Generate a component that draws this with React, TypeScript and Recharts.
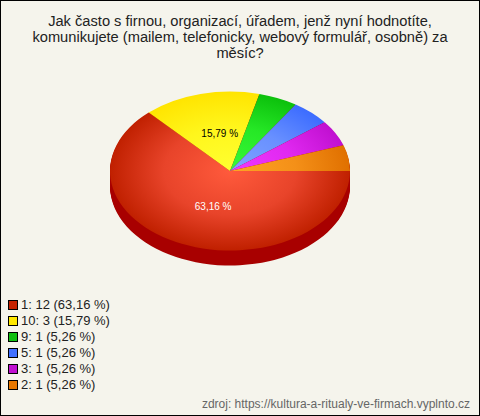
import { Pie, PieChart, Sector } from 'recharts';

const categories = ['1', '10', '9', '5', '3', '2'];
const counts = [12, 3, 1, 1, 1, 1];
const shares = ['63,16 %', '15,79 %', '5,26 %', '5,26 %', '5,26 %', '5,26 %'];
const sliceLabels = ['63,16 %', '15,79 %', '', '', '', ''];
const labelColors = ['#ffffff', '#000000', '', '', '', ''];
const swatchColors = ['#c42200', '#ffe800', '#10c010', '#4070ff', '#c010d0', '#e87800'];
const centerColors = ['#ff5a3c', '#ffff30', '#38f838', '#80a4ff', '#f038ff', '#ffa424'];
const midColors = ['#e8442a', '#fff61c', '#26e826', '#6890ff', '#e028f0', '#f49018'];
const edgeColors = ['#c02000', '#ffe400', '#0cc00c', '#3c6cff', '#c010d0', '#e07000'];
const titleLines = [
  'Jak často s firnou, organizací, úřadem, jenž nyní hodnotíte,',
  'komunikujete (mailem, telefonicky, webový formulář, osobně) za',
  'měsíc?',
];
const source = 'zdroj: https://kultura-a-ritualy-ve-firmach.vyplnto.cz';

const WIDTH = 480;
const HEIGHT = 416;
const CX = 230;
const CY = 171;
const RADIUS = 120;
const SQUASH = 0.6625;
const DEPTH = 15;
const FONT = '"Liberation Sans", Arial, sans-serif';

const pieData = categories.map((name, i) => ({
  name,
  value: counts[i],
  fill: `url(#slice-${i})`,
  label: sliceLabels[i],
  labelColor: labelColors[i],
}));

const legendRows = categories.map((name, i) => ({
  text: `${name}: ${counts[i]} (${shares[i]})`,
  color: swatchColors[i],
}));

const squash = (cx: number, cy: number) =>
  `translate(${cx} ${cy}) scale(1 ${SQUASH}) translate(${-cx} ${-cy})`;

const TopSlice = (props: any) => (
  <g transform={squash(props.cx, props.cy)}>
    <Sector {...props} stroke="none" />
  </g>
);

// the side wall: the same slice repeated downwards, one pixel at a time
const WallSlice = (props: any) => (
  <g>
    {Array.from({ length: DEPTH }, (_, i) => (
      <g key={i} transform={`translate(0 ${i + 1}) ${squash(props.cx, props.cy)}`}>
        <Sector {...props} fill="#a80000" stroke="none" />
      </g>
    ))}
  </g>
);

const SliceLabel = ({ cx, cy, midAngle, payload }: any) => {
  if (!payload.label) return null;
  const rad = (midAngle * Math.PI) / 180;
  return (
    <text
      x={cx + 42 * Math.cos(rad)}
      y={cy - 39 * Math.sin(rad)}
      fill={payload.labelColor}
      fontFamily={FONT}
      fontSize={10}
      textAnchor="middle"
      dominantBaseline="central"
    >
      {payload.label}
    </text>
  );
};

export default function App() {
  return (
    <div
      style={{
        position: 'absolute',
        left: 0,
        top: 0,
        width: WIDTH,
        height: HEIGHT,
        boxSizing: 'border-box',
        background: '#f5f4ec',
        border: '1px solid #000',
        overflow: 'hidden',
      }}
    >
      <div style={{ position: 'absolute', left: -1, top: -1 }}>
        <PieChart width={WIDTH} height={HEIGHT} margin={{ top: 0, right: 0, bottom: 0, left: 0 }}>
          <defs>
            {centerColors.map((color, i) => (
              <radialGradient
                key={color}
                id={`slice-${i}`}
                gradientUnits="userSpaceOnUse"
                cx={CX}
                cy={CY}
                r={RADIUS}
              >
                <stop offset="0%" stopColor={color} />
                <stop offset="55%" stopColor={midColors[i]} />
                <stop offset="100%" stopColor={edgeColors[i]} />
              </radialGradient>
            ))}
          </defs>
          <Pie
            data={pieData}
            dataKey="value"
            cx={CX}
            cy={CY}
            outerRadius={RADIUS}
            startAngle={360}
            endAngle={0}
            shape={WallSlice}
            label={false}
            labelLine={false}
            isAnimationActive={false}
          />
          <Pie
            data={pieData}
            dataKey="value"
            cx={CX}
            cy={CY}
            outerRadius={RADIUS}
            startAngle={360}
            endAngle={0}
            shape={TopSlice}
            label={SliceLabel}
            labelLine={false}
            isAnimationActive={false}
          />
        </PieChart>
      </div>
      <div
        style={{
          position: 'absolute',
          left: 0,
          top: 12,
          width: 478,
          textAlign: 'center',
          fontFamily: FONT,
          fontSize: 14.67,
          lineHeight: '16px',
          color: '#222',
        }}
      >
        {titleLines.map(line => (
          <div key={line}>{line}</div>
        ))}
      </div>
      <div
        style={{
          position: 'absolute',
          left: 7,
          top: 296,
          fontFamily: FONT,
          fontSize: 13,
          lineHeight: '16px',
          color: '#222',
        }}
      >
        {legendRows.map(row => (
          <div key={row.text} style={{ display: 'flex', alignItems: 'center', height: 16 }}>
            <span
              style={{
                width: 8,
                height: 8,
                marginRight: 3,
                background: row.color,
                border: '1px solid #000',
              }}
            />
            {row.text}
          </div>
        ))}
      </div>
      <div
        style={{
          position: 'absolute',
          right: 9,
          top: 396,
          fontFamily: FONT,
          fontSize: 12,
          lineHeight: '14px',
          color: '#666',
          whiteSpace: 'nowrap',
        }}
      >
        {source}
      </div>
    </div>
  );
}
